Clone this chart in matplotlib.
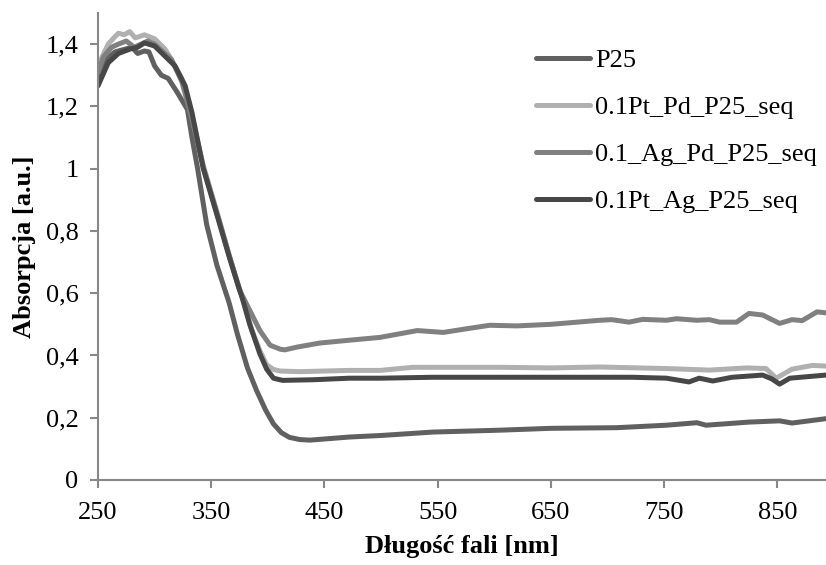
import matplotlib
matplotlib.use("Agg")
import matplotlib.pyplot as plt

# ---- data ----
p25_nm = [250, 255, 260, 265, 270, 275, 280, 285, 291, 295, 300, 306, 312, 320, 329, 333, 338,
          346, 355, 366, 373, 382, 390, 398, 405, 412, 419, 428, 437, 472, 500, 546, 605, 650, 708,
          752, 779, 787, 825, 852, 863, 893]
p25_val = [1.30, 1.34, 1.36, 1.375, 1.38, 1.385, 1.39, 1.37, 1.378, 1.375, 1.33, 1.30, 1.29, 1.245,
           1.19, 1.10, 1.00, 0.82, 0.69, 0.567, 0.47, 0.36, 0.288, 0.225, 0.18, 0.152, 0.137,
           0.13, 0.128, 0.138, 0.143, 0.154, 0.16, 0.166, 0.168, 0.176, 0.184, 0.176, 0.186, 0.19,
           0.183, 0.197]

ptpd_nm = [250, 259, 264, 268, 273, 278, 283, 291, 300, 309, 314, 324, 333, 343, 356, 366, 378, 386,
           393, 399, 405, 411, 428, 472, 499, 528, 605, 650, 693, 752, 790, 823, 840, 849, 863, 881, 893]
ptpd_val = [1.33, 1.40, 1.42, 1.435, 1.43, 1.44, 1.42, 1.43, 1.417, 1.385, 1.356, 1.29, 1.17, 1.01,
            0.85, 0.72, 0.58, 0.48, 0.415, 0.37, 0.355, 0.35, 0.348, 0.352, 0.352, 0.362, 0.362, 0.36,
            0.363, 0.358, 0.353, 0.36, 0.358, 0.327, 0.356, 0.368, 0.366]

agpd_nm = [250, 255, 262, 268, 275, 282, 288, 294, 300, 306, 315, 324, 333, 343, 356, 366, 375, 384,
           393, 402, 411, 415, 426, 446, 472, 499, 532, 555, 576, 596, 620, 650, 693, 704, 719, 731,
           752, 761, 779, 790, 799, 814, 825, 837, 852, 863, 872, 885, 893]
agpd_val = [1.31, 1.36, 1.39, 1.40, 1.41, 1.39, 1.40, 1.41, 1.40, 1.38, 1.35, 1.28, 1.16, 1.005,
            0.845, 0.72, 0.61, 0.545, 0.48, 0.433, 0.42, 0.418, 0.427, 0.44, 0.449, 0.458, 0.48,
            0.474, 0.486, 0.497, 0.495, 0.50, 0.513, 0.515, 0.507, 0.516, 0.513, 0.518, 0.513,
            0.515, 0.507, 0.507, 0.535, 0.53, 0.503, 0.515, 0.512, 0.54, 0.537]

ptag_nm = [250, 259, 268, 279, 285, 291, 300, 309, 318, 327, 333, 343, 356, 366, 372, 378, 384, 393,
           399, 405, 413, 440, 472, 499, 546, 605, 650, 693, 722, 752, 772, 781, 793, 810, 837, 845,
           852, 861, 893]
ptag_val = [1.266, 1.34, 1.37, 1.385, 1.39, 1.404, 1.394, 1.362, 1.33, 1.266, 1.18, 1.0, 0.84,
            0.715, 0.645, 0.577, 0.50, 0.405, 0.356, 0.327, 0.32, 0.322, 0.327, 0.327, 0.33, 0.33,
            0.33, 0.33, 0.33, 0.327, 0.315, 0.327, 0.318, 0.33, 0.337, 0.325, 0.308, 0.327, 0.337]

series_names = ["P25", "0.1Pt_Pd_P25_seq", "0.1_Ag_Pd_P25_seq", "0.1Pt_Ag_P25_seq"]
x_ticks = [250, 350, 450, 550, 650, 750, 850]
y_ticks = [0, 0.2, 0.4, 0.6, 0.8, 1.0, 1.2, 1.4]
y_tick_labels = ["0", "0,2", "0,4", "0,6", "0,8", "1", "1,2", "1,4"]

colors = ["#606060", "#b0b0b0", "#808080", "#474747"]

plt.rcParams["font.family"] = ["Liberation Serif", "DejaVu Serif"]

fig = plt.figure(figsize=(8.26, 5.65), dpi=100)
ax = fig.add_axes([98 / 826, 1 - 480 / 565, 1 - 98 / 826, (480 - 13) / 565])

data = [(p25_nm, p25_val), (ptpd_nm, ptpd_val), (agpd_nm, agpd_val), (ptag_nm, ptag_val)]
for (xs, ys), name, c in zip(data, series_names, colors):
    ax.plot(xs, ys, color=c, lw=3.6, label=name, solid_capstyle="round", solid_joinstyle="round")

ax.set_xlim(250, 893)
ax.set_ylim(0, 1.5)
ax.set_xticks(x_ticks)
ax.set_xticklabels([str(t) for t in x_ticks])
ax.set_yticks(y_ticks)
ax.set_yticklabels(y_tick_labels)

for s in ["top", "right"]:
    ax.spines[s].set_visible(False)
for s in ["left", "bottom"]:
    ax.spines[s].set_color("#888888")
    ax.spines[s].set_linewidth(1.5)
ax.tick_params(axis="both", direction="out", length=6, width=1.5, color="#888888",
               labelsize=19, labelcolor="black")
ax.tick_params(axis="x", pad=10)
ax.tick_params(axis="y", pad=8)

ax.set_xlabel("Długość fali [nm]", fontsize=19, fontweight="bold", labelpad=8)
ax.set_ylabel("Absorpcja [a.u.]", fontsize=19, fontweight="bold", labelpad=7)

leg = fig.legend(loc="upper left", bbox_to_anchor=(536 / 826, 1 - 49 / 565), frameon=False,
                 fontsize=19, handlelength=2.05, handletextpad=0.2, labelspacing=0.89,
                 borderpad=0, borderaxespad=0)

fig.savefig("out.png", dpi=100)
